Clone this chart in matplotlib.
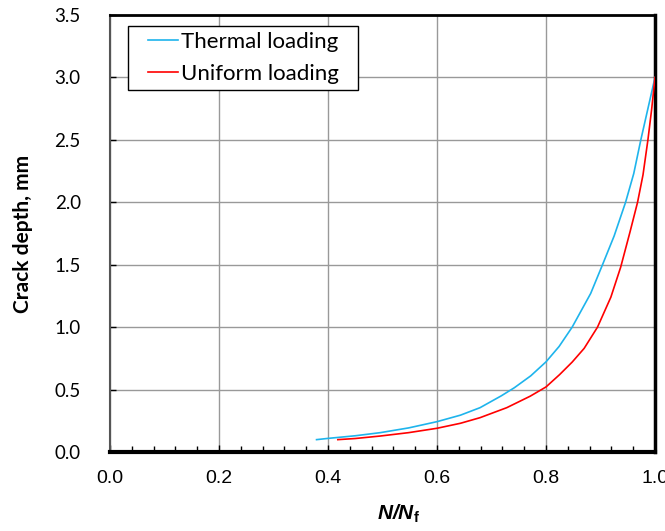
import matplotlib
matplotlib.use("Agg")
import matplotlib.pyplot as plt
from matplotlib.ticker import MultipleLocator
from matplotlib.patches import Rectangle

# Data
thermal_x = [0.379, 0.40, 0.45, 0.496, 0.548, 0.60, 0.643, 0.679, 0.718, 0.742, 0.772,
             0.80, 0.824, 0.848, 0.882, 0.9037, 0.925, 0.946, 0.961, 0.974, 0.987, 1.0]
thermal_y = [0.099, 0.109, 0.13, 0.155, 0.193, 0.243, 0.295, 0.355, 0.45, 0.515, 0.61,
             0.722, 0.845, 1.0, 1.27, 1.5, 1.73, 2.0, 2.23, 2.5, 2.75, 3.0]

uniform_x = [0.418, 0.45, 0.496, 0.548, 0.60, 0.643, 0.679, 0.728, 0.771, 0.80, 0.825,
             0.848, 0.870, 0.8945, 0.919, 0.937, 0.954, 0.968, 0.978, 0.987, 0.994, 1.0]
uniform_y = [0.099, 0.108, 0.128, 0.155, 0.19, 0.23, 0.275, 0.355, 0.447, 0.521, 0.62,
             0.72, 0.83, 1.0, 1.24, 1.48, 1.76, 2.0, 2.22, 2.5, 2.75, 3.0]

series_labels = ["Thermal loading", "Uniform loading"]
x_ticks = [0.0, 0.2, 0.4, 0.6, 0.8, 1.0]
y_ticks = [0.0, 0.5, 1.0, 1.5, 2.0, 2.5, 3.0, 3.5]

plt.rcParams['mathtext.fontset'] = 'custom'
plt.rcParams['mathtext.bf'] = 'Liberation Sans:bold:italic'
plt.rcParams['mathtext.rm'] = 'Liberation Sans:bold'

W, H = 665, 531
fig = plt.figure(figsize=(W / 100, H / 100), dpi=100)
L, R, T, B = 110, 655, 15, 452
ax = fig.add_axes([L / W, (H - B) / H, (R - L) / W, (B - T) / H])

ax.plot(thermal_x, thermal_y, color='#1EB4EC', lw=1.2, label=series_labels[0], zorder=3)
ax.plot(uniform_x, uniform_y, color='#FF0000', lw=1.2, label=series_labels[1], zorder=3)

ax.set_xlim(0, 1.0)
ax.set_ylim(0, 3.5)
ax.set_xticks(x_ticks)
ax.set_yticks(y_ticks)
ax.set_xticklabels([f"{v:.1f}" for v in x_ticks], family=['Liberation Sans', 'DejaVu Sans'], fontsize=14)
ax.set_yticklabels([f"{v:.1f}" for v in y_ticks], family=['Lato', 'DejaVu Sans'], fontsize=13.5)
ax.xaxis.set_minor_locator(MultipleLocator(0.04))
ax.tick_params(axis='x', which='major', direction='in', length=5, width=1, pad=13, colors='black')
ax.tick_params(axis='x', which='minor', direction='in', length=4, width=1)
ax.tick_params(axis='y', which='major', direction='in', length=4, width=1, pad=21)

ax.grid(True, which='major', color='#999999', lw=1, zorder=0)
ax.set_axisbelow(True)

for side, lw, col in [('bottom', 3, 'black'), ('right', 2.5, 'black'),
                      ('top', 2, 'black'), ('left', 1.5, '#555555')]:
    ax.spines[side].set_linewidth(lw)
    ax.spines[side].set_color(col)

ax.set_ylabel("Crack depth, mm", family=['Lato', 'DejaVu Sans'], fontweight='bold', fontsize=15)
ax.yaxis.set_label_coords((33 - L) / (R - L), 0.5)
ax.set_xlabel(r"$\mathbf{N/N}_\mathrm{f}$", fontsize=15)
ax.xaxis.set_label_coords(0.53, -0.115)

# legend frame box (decoration)
bx0, bx1, by0, by1 = 127.7, 358, 25.7, 90
ax.add_patch(Rectangle(((bx0 - L) / (R - L), (B - by1) / (B - T)),
                       (bx1 - bx0) / (R - L), (by1 - by0) / (B - T),
                       transform=ax.transAxes, facecolor='white', edgecolor='black',
                       lw=1, zorder=4))
leg = ax.legend(loc='upper left', bbox_to_anchor=((148 - L) / (R - L), (B - 32) / (B - T)),
                frameon=False, prop={'family': ['Lato', 'DejaVu Sans'], 'size': 16},
                handlelength=1.35, handletextpad=0.12, borderpad=0, labelspacing=0.55,
                borderaxespad=0)
leg.set_zorder(5)

fig.savefig("out.png", dpi=100)
